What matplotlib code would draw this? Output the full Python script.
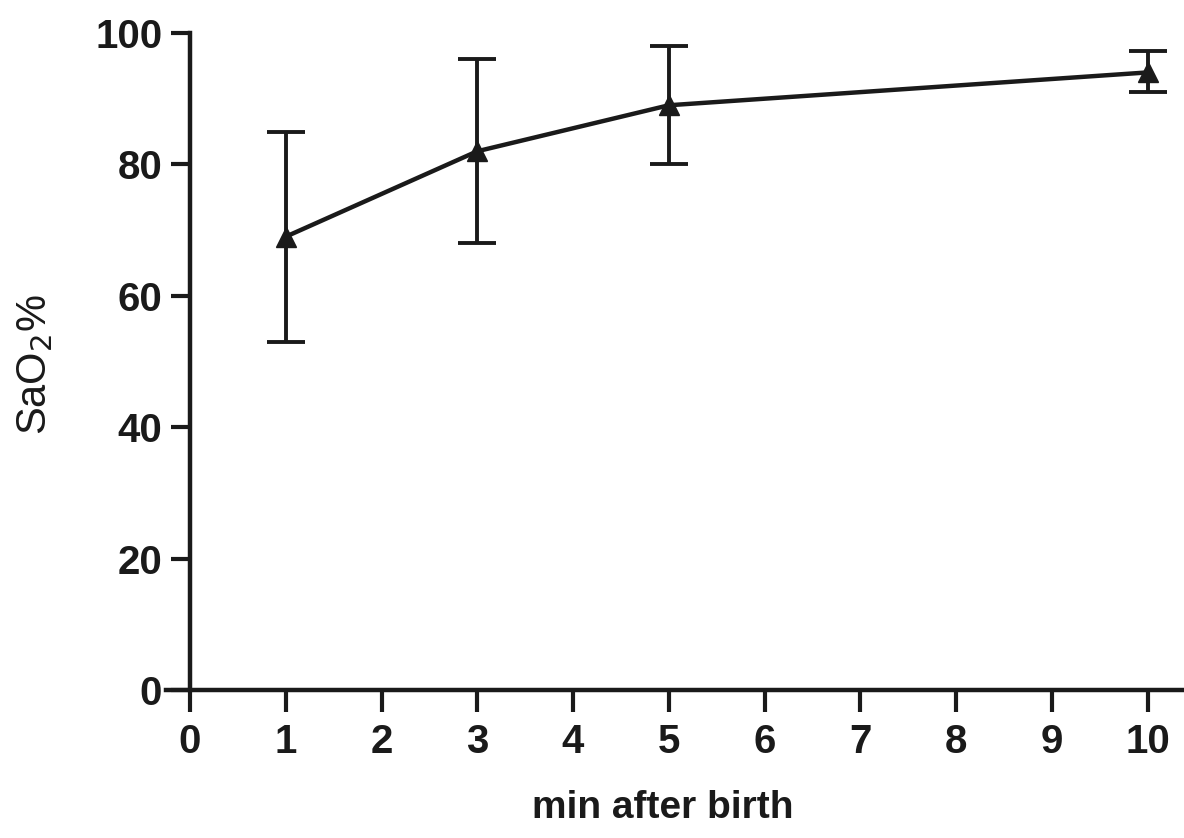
import matplotlib
matplotlib.use("Agg")
import matplotlib.pyplot as plt

# minutes after birth and mean SaO2 with spread
minutes = [1, 3, 5, 10]
sao2 = [69, 82, 89, 94]
err_hi = [16, 14, 9, 3.3]
err_lo = [16, 14, 9, 3]
xticks = [0, 1, 2, 3, 4, 5, 6, 7, 8, 9, 10]
yticks = [0, 20, 40, 60, 80, 100]

plt.rcParams['font.family'] = ['Liberation Sans', 'DejaVu Sans']

fig = plt.figure(figsize=(11.84, 8.38), dpi=100)
ax = fig.add_axes([190/1184, 148/838, 994/1184, 657/838])

ax.errorbar(minutes, sao2, yerr=[err_lo, err_hi], color='#1a1a1a', lw=3.2,
            marker='^', ms=15, elinewidth=2.8, capsize=14, capthick=2.8, zorder=3)

ax.set_xlim(0, 10.38)
ax.set_ylim(0, 100)
ax.set_xticks(xticks)
ax.set_yticks(yticks)
for s in ['top', 'right']:
    ax.spines[s].set_visible(False)
for s in ['left', 'bottom']:
    ax.spines[s].set_linewidth(3.2)
    ax.spines[s].set_color('#1a1a1a')
ax.spines['bottom'].set_bounds(-0.25, 10.38)
ax.spines['bottom'].set_clip_on(False)
ax.tick_params(axis='both', direction='out', length=14, width=3, colors='#1a1a1a',
               labelsize=29, pad=6)
ax.tick_params(axis='x', length=16, pad=8)
for lab in ax.get_xticklabels() + ax.get_yticklabels():
    lab.set_fontweight('bold')

fig.text(663/1184, 1 - 808/838, 'min after birth', fontsize=28, fontweight='bold',
         ha='center', va='center', color='#1a1a1a')
fig.text(35/1184, 1 - 365/838, 'SaO$_2$%', fontsize=30, rotation=90,
         ha='center', va='center', color='#1a1a1a')

fig.savefig('out.png', dpi=100)
